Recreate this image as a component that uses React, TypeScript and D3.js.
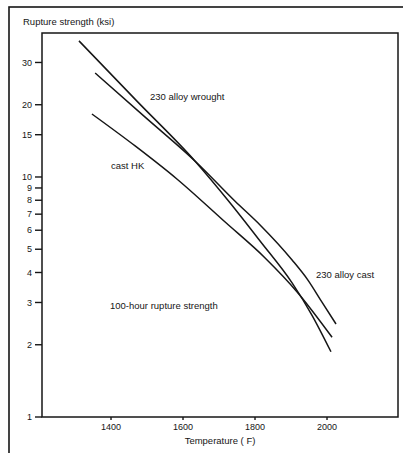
import React from "react";
import * as d3 from "d3";

const W = 403;
const H = 453;

// Temperature (F) and 100-hour rupture strength (ksi)
const wroughtT = [1311, 1472, 1633, 1731, 1814, 1903, 1958, 2011];
const wroughtV = [36.9, 20.7, 11.66, 7.79, 5.41, 3.62, 2.66, 1.87];

const castT = [1356, 1494, 1639, 1744, 1814, 1903, 1947, 1986, 2025];
const castV = [27.1, 17.8, 11.44, 7.94, 6.31, 4.51, 3.72, 3.01, 2.44];

const hkT = [1347, 1467, 1583, 1717, 1828, 1917, 2014];
const hkV = [18.3, 13.47, 9.81, 6.49, 4.6, 3.32, 2.15];

const yTicks = [1, 2, 3, 4, 5, 6, 7, 8, 9, 10, 15, 20, 30];
const xTicks = [1400, 1600, 1800, 2000];

const series = [
  { name: "230 alloy wrought", t: wroughtT, v: wroughtV },
  { name: "230 alloy cast", t: castT, v: castV },
  { name: "cast HK", t: hkT, v: hkV },
];

const labels = [
  { text: "230 alloy wrought", x: 150, y: 100 },
  { text: "cast HK", x: 111, y: 169 },
  { text: "230 alloy cast", x: 316, y: 278 },
  { text: "100-hour rupture strength", x: 110, y: 309 },
];

export default function App() {
  const left = 42, right = 398, top = 33, bottom = 417;
  const x = d3.scaleLinear().domain([1208.3, 2197.2]).range([left, right]);
  const y = d3.scaleLog().domain([1, 39.8]).range([bottom, top]);
  const line = d3
    .line<[number, number]>()
    .x((d) => x(d[0]))
    .y((d) => y(d[1]))
    .curve(d3.curveMonotoneX);
  const font = "'Liberation Sans', Arial, sans-serif";
  const ink = "#161616";
  const fs = 9.5;

  return (
    <svg width={W} height={H} style={{ position: "absolute", left: 0, top: 0, background: "#fff" }}>
      <rect x={0} y={0} width={W} height={H} fill="#fff" />
      {/* outer frame */}
      <rect x={9} y={7} width={W + 10} height={H + 10} fill="none" stroke={ink} strokeWidth={1.6} />
      {/* plot frame */}
      <rect x={left} y={top} width={right - left} height={bottom - top} fill="none" stroke={ink} strokeWidth={1.5} />
      <text x={23} y={25} fontFamily={font} fontSize={fs} fill={ink}>
        Rupture strength (ksi)
      </text>
      {yTicks.map((t) => (
        <g key={"y" + t}>
          <line x1={35} x2={left} y1={y(t)} y2={y(t)} stroke={ink} strokeWidth={1.4} />
          <text x={32} y={y(t)} dy="0.35em" textAnchor="end" fontFamily={font} fontSize={9} fill={ink}>
            {t}
          </text>
        </g>
      ))}
      {xTicks.map((t) => (
        <g key={"x" + t}>
          <line x1={x(t)} x2={x(t)} y1={bottom} y2={bottom + 3} stroke={ink} strokeWidth={1.4} />
          <text x={x(t)} y={430} textAnchor="middle" fontFamily={font} fontSize={9} fill={ink}>
            {t}
          </text>
        </g>
      ))}
      <text x={220} y={444} textAnchor="middle" fontFamily={font} fontSize={fs} fill={ink}>
        Temperature ( F)
      </text>
      {series.map((s) => (
        <path
          key={s.name}
          d={line(s.t.map((t, i) => [t, s.v[i]] as [number, number])) || ""}
          fill="none"
          stroke={ink}
          strokeWidth={1.5}
        />
      ))}
      {labels.map((l) => (
        <text key={l.text} x={l.x} y={l.y} fontFamily={font} fontSize={fs} fill={ink}>
          {l.text}
        </text>
      ))}
    </svg>
  );
}
